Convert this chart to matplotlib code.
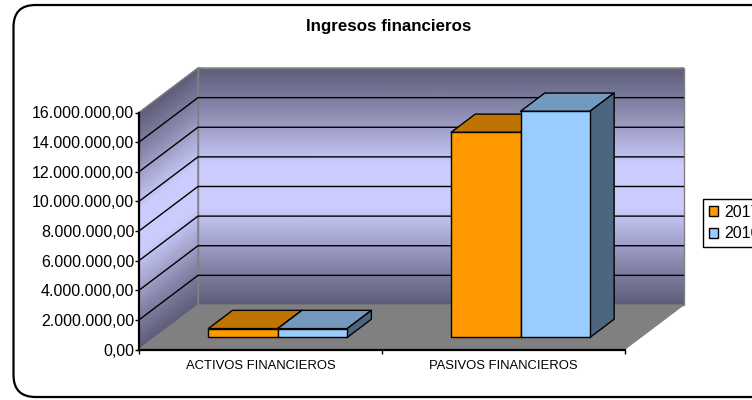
import numpy as np
import matplotlib
matplotlib.use("Agg")
import matplotlib.pyplot as plt
from matplotlib.colors import LinearSegmentedColormap
from matplotlib.patches import FancyBboxPatch, Patch, Polygon

plt.rcParams['font.family'] = ['Liberation Sans', 'DejaVu Sans']

categories = ["ACTIVOS FINANCIEROS", "PASIVOS FINANCIEROS"]
series_names = ["2017", "2016"]
values_2017 = [600000, 13850000]
values_2016 = [600000, 15270000]
y_ticks = [0, 2000000, 4000000, 6000000, 8000000, 10000000, 12000000, 14000000, 16000000]
y_labels = ["0,00", "2.000.000,00", "4.000.000,00", "6.000.000,00", "8.000.000,00",
            "10.000.000,00", "12.000.000,00", "14.000.000,00", "16.000.000,00"]

W, H = 752, 400
fig = plt.figure(figsize=(W / 100, H / 100), dpi=100)

# rounded frame, in pixels
bg = fig.add_axes([0, 0, 1, 1])
bg.set_xlim(0, W)
bg.set_ylim(H, 0)
bg.axis("off")
bg.add_patch(FancyBboxPatch((13.5, 5), 760, 392, boxstyle="round,pad=0,rounding_size=22",
                            fc="white", ec="black", lw=1.6))
bg.text(389, 27, "Ingresos financieros", ha="center", va="center",
        fontsize=12.2, fontweight="bold")

# front plane of the chart
x0, x1, y0, y1 = 139, 624.5, 349.5, 112.5
ax = fig.add_axes([x0 / W, 1 - y0 / H, (x1 - x0) / W, (y0 - y1) / H])
ax.patch.set_alpha(0)
ax.set_xlim(0, 2)
ax.set_ylim(0, 16000000)

# depth of the box, converted from pixels to data units
depth_x = 59 / ((x1 - x0) / 2)
depth_y = 44.5 / ((y0 - y1) / 16000000)


def project(x, v, d):
    return x + d * depth_x, v + d * depth_y


def poly(points, **kw):
    p = Polygon([project(*pt) for pt in points], closed=True, clip_on=False, **kw)
    ax.add_patch(p)
    return p


# gradient of the walls, dark at both ends and light in the middle
wall_cmap = LinearSegmentedColormap.from_list("wall", ["#5c5c78", "#cbcbfd"])
levels = np.array([0, 3000000, 6500000, 9500000, 13000000, 16000000])
shade = np.array([0, 0.42, 1, 1, 0.42, 0])

bx, by = project(np.array([0.0, 2.0]), levels[:, None], 1)
ax.pcolormesh(np.tile(bx, (len(levels), 1)), np.tile(by, (1, 2)),
              np.tile(shade[:, None], (1, 2)), cmap=wall_cmap, vmin=0, vmax=1,
              shading="gouraud", clip_on=False, zorder=1)

sx = np.array([0.0, 1.0])
side_x = np.tile(sx * depth_x, (len(levels), 1))
side_y = levels[:, None] + sx[None, :] * depth_y
ax.pcolormesh(side_x, side_y, np.tile(shade[:, None], (1, 2)), cmap=wall_cmap,
              vmin=0, vmax=1, shading="gouraud", clip_on=False, zorder=1)

poly([(0, 0, 0), (2, 0, 0), (2, 0, 1), (0, 0, 1)], fc="#808080", ec="#808080", lw=0.8, zorder=2)
poly([(0, 16000000, 1), (2, 16000000, 1), (2, 0, 1), (0, 0, 1)], fc="none", ec="#808080", lw=1, zorder=2)
poly([(0, 0, 0), (0, 16000000, 0), (0, 16000000, 1), (0, 0, 1)], fc="none", ec="#808080", lw=1, zorder=2)

# gridlines along the side wall and the back wall
for v in y_ticks[1:-1]:
    xs, ys = zip(project(0, v, 0), project(0, v, 1), project(2, v, 1))
    ax.plot(xs, ys, color="black", lw=1, clip_on=False, zorder=3)

# bars
bar_w = 0.286
d_front, d_back = 0.27, 0.68
series = [(values_2017, "#FF9900", "#BF7300", "#805000"),
          (values_2016, "#99CCFF", "#7399BF", "#4D6680")]
for s, (vals, face, top, side) in enumerate(series):
    for c, v in enumerate(vals):
        left = c + 0.506 + (s - 1) * bar_w
        right = left + bar_w
        z = 4 + s + c
        poly([(left, v, d_front), (right, v, d_front), (right, v, d_back), (left, v, d_back)],
             fc=top, ec="black", lw=1, joinstyle="round", zorder=z)
        poly([(right, 0, d_front), (right, v, d_front), (right, v, d_back), (right, 0, d_back)],
             fc=side, ec="black", lw=1, joinstyle="round", zorder=z)
        poly([(left, 0, d_front), (right, 0, d_front), (right, v, d_front), (left, v, d_front)],
             fc=face, ec="black", lw=1, joinstyle="round", zorder=z)

for name in ["top", "right"]:
    ax.spines[name].set_visible(False)
for name in ["left", "bottom"]:
    ax.spines[name].set_linewidth(1.6)
    ax.spines[name].set_zorder(3)

ax.set_yticks(y_ticks, labels=y_labels, fontsize=11.5)
ax.tick_params(axis="y", length=3, width=1, pad=0.5)
ax.set_xticks([0, 1, 2], labels=[])
ax.tick_params(axis="x", which="major", length=3, width=1)
ax.set_xticks([0.5, 1.5], labels=categories, minor=True, fontsize=9.4)
ax.tick_params(axis="x", which="minor", length=0, pad=7.5)

# legend runs off the right edge of the picture
handles = [Patch(fc=series[i][1], ec="black", lw=1, label=series_names[i]) for i in range(2)]
fig.legend(handles=handles, loc="upper left", bbox_to_anchor=(703 / W, 1 - 199 / H),
           borderaxespad=0, fontsize=11.5, fancybox=False, edgecolor="black", framealpha=1,
           handlelength=0.57, handleheight=0.6, handletextpad=0.4, labelspacing=0.42,
           borderpad=0.36).get_frame().set_linewidth(1)

fig.savefig("out.png", dpi=100)
